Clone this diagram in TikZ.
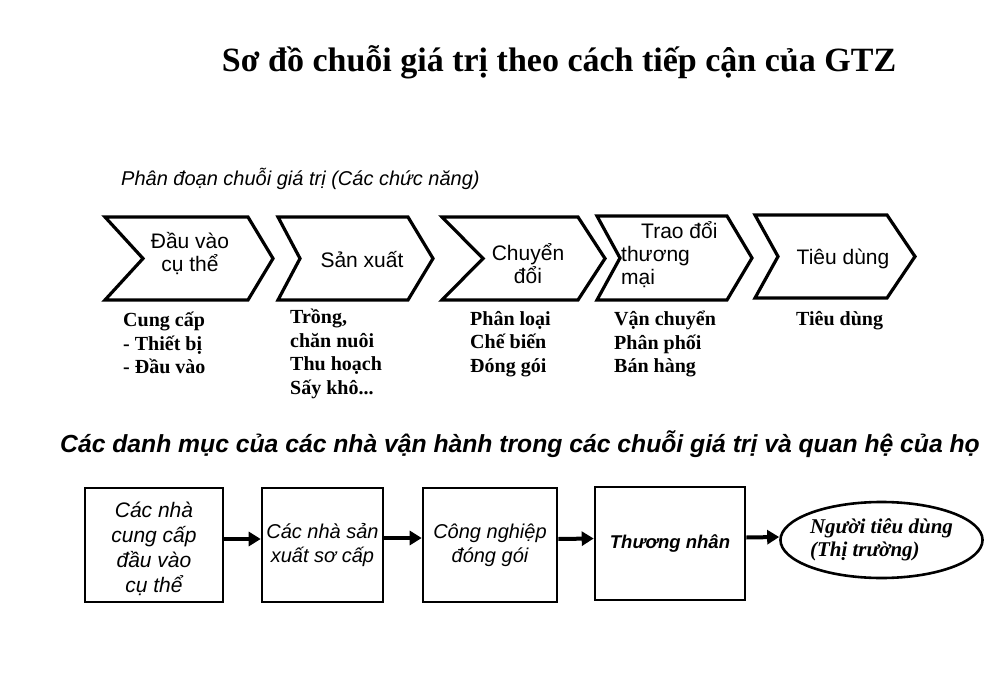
\documentclass[tikz,border=0pt]{standalone}
\usepackage{fontspec}
\setmainfont{Liberation Serif}
\setsansfont{Liberation Sans}
\usetikzlibrary{arrows.meta,shapes.geometric}
\begin{document}
\begin{tikzpicture}[x=1pt,y=-1pt,
  chev/.style={draw=black, line width=3.2pt, line join=miter},
  ctext/.style={font=\sffamily\fontsize{21}{23}\selectfont, align=center, inner sep=0pt},
  subtext/.style={font=\rmfamily\bfseries\fontsize{20}{23.5}\selectfont, align=left, inner sep=0pt, anchor=west},
  actor/.style={draw=black, line width=2.6pt, inner sep=0pt, align=center,
    font=\sffamily\itshape\fontsize{20}{24}\selectfont},
  arr/.style={line width=4pt, -{Triangle[length=12pt,width=14pt]}}
]
\fill[white] (0,0) rectangle (1004,674);
\useasboundingbox (0,0) rectangle (1004,674);

% title and section headings
\node[font=\rmfamily\bfseries\fontsize{34}{38}\selectfont, inner sep=0pt] (title) at (559,62)
  {Sơ đồ chuỗi giá trị theo cách tiếp cận của GTZ};
\node[font=\sffamily\itshape\fontsize{20}{24}\selectfont, anchor=west, inner sep=0pt] (head1) at (121,179)
  {Phân đoạn chuỗi giá trị (Các chức năng)};
\node[font=\sffamily\bfseries\itshape\fontsize{24.7}{28}\selectfont, anchor=west, inner sep=0pt] (head2) at (60,444)
  {Các danh mục của các nhà vận hành trong các chuỗi giá trị và quan hệ của họ};

% chevrons
\draw[chev] (105,217) -- (248,217) -- (273,258.5) -- (248,300) -- (105,300) -- (143,258.5) -- cycle;
\draw[chev] (278,217) -- (408,217) -- (433,258.5) -- (408,300) -- (278,300) -- (300,258.5) -- cycle;
\draw[chev] (442,217) -- (578,217) -- (605,258.5) -- (578,300) -- (442,300) -- (483,258.5) -- cycle;
\draw[chev] (597,216) -- (727,216) -- (752,258) -- (727,300) -- (597,300) -- (620,258) -- cycle;
\draw[chev] (755,215) -- (887,215) -- (915,256.5) -- (887,298) -- (755,298) -- (778,256.5) -- cycle;

\node[ctext] (c1) at (190,254) {Đầu vào\\cụ thể};
\node[ctext] (c2) at (362,260) {Sản xuất};
\node[ctext] (c3) at (528,264) {Chuyển\\đổi};
\node[ctext, align=left, anchor=west] (c4) at (621,255) {\hspace*{20pt}Trao đổi\\thương\\mại};
\node[ctext] (c5) at (843,259) {Tiêu dùng};

% texts under chevrons
\node[subtext] (s1) at (123,343) {Cung cấp\\- Thiết bị\\- Đầu vào};
\node[subtext] (s2) at (290,354) {Trồng,\\chăn nuôi\\Thu hoạch\\Sấy khô...};
\node[subtext] (s3) at (470,344) {Phân loại\\Chế biến\\Đóng gói};
\node[subtext] (s4) at (614,344) {Vận chuyển\\Phân phối\\Bán hàng};
\node[subtext] (s5) at (796,321) {Tiêu dùng};

% actors
\node[actor, minimum width=138pt, minimum height=114pt] (b1) at (154,545) {};
\node[font=\sffamily\itshape\fontsize{21}{25}\selectfont, align=center, inner sep=0pt] (b1t) at (154,549)
  {Các nhà\\cung cấp\\đầu vào\\cụ thể};
\node[actor, minimum width=121pt, minimum height=114pt] (b2) at (322.5,545) {Các nhà sản\\xuất sơ cấp};
\node[actor, minimum width=134pt, minimum height=114pt] (b3) at (490,545) {Công nghiệp\\đóng gói};
\node[actor, minimum width=150pt, minimum height=113pt, font=\sffamily\bfseries\itshape\fontsize{18.5}{22}\selectfont] (b4) at (670,543.5)
  {Thương nhân};
\node[actor, ellipse, minimum width=197pt, minimum height=76pt, align=left,
  font=\rmfamily\bfseries\itshape\fontsize{21}{22.5}\selectfont] (ell) at (881.5,540)
  {Người tiêu dùng\\(Thị trường)};

\draw[arr] ([yshift=6pt]b1.east) -- ([yshift=6pt]b2.west);
\draw[arr] ([yshift=7pt]b2.east) -- ([yshift=7pt]b3.west);
\draw[arr] ([yshift=6pt]b3.east) -- ([yshift=5pt]b4.west);
\draw[arr] ([yshift=6pt]b4.east) -- ([yshift=3pt]ell.west);
\end{tikzpicture}
\end{document}
